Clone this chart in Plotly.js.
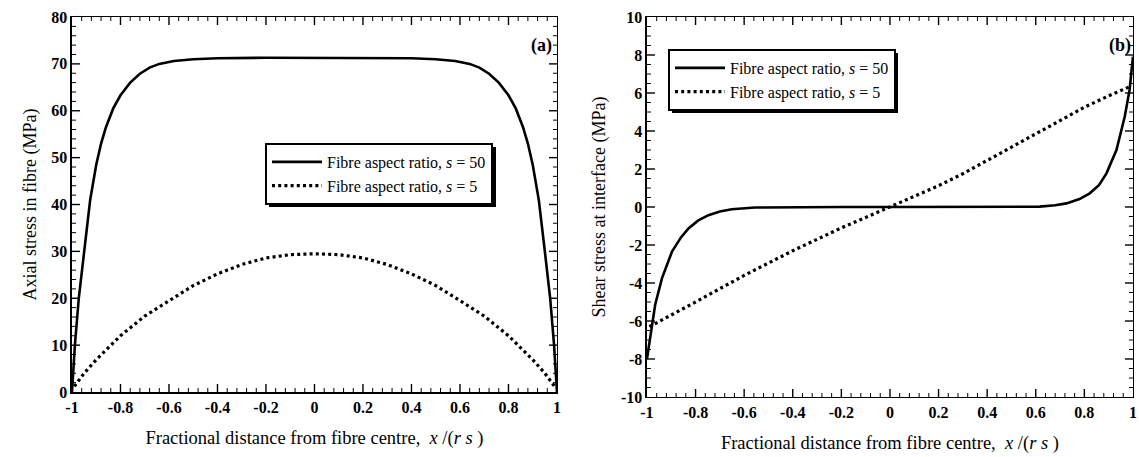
<!DOCTYPE html>
<html>
<head>
<meta charset="utf-8">
<script src="https://cdn.plot.ly/plotly-3.0.1.min.js"></script>
<style>html,body{margin:0;padding:0;background:#fff;}#chart{width:1139px;height:457px;}</style>
</head>
<body>
<div id="chart"></div>
<script>
// ---- Data ----
const xTickVals = [-1, -0.8, -0.6, -0.4, -0.2, 0, 0.2, 0.4, 0.6, 0.8, 1];
const xTickText = ['-1', '-0.8', '-0.6', '-0.4', '-0.2', '0', '0.2', '0.4', '0.6', '0.8', '1'];
const yTickValsA = [0, 10, 20, 30, 40, 50, 60, 70, 80];
const yTickTextA = ['0', '10', '20', '30', '40', '50', '60', '70', '80'];
const yTickValsB = [-10, -8, -6, -4, -2, 0, 2, 4, 6, 8, 10];
const yTickTextB = ['-10', '-8', '-6', '-4', '-2', '0', '2', '4', '6', '8', '10'];

const seriesNames = ['Fibre aspect ratio, <i>s</i> = 50', 'Fibre aspect ratio, <i>s</i> = 5'];

// (a) axial stress in fibre, s = 50
const xA50 = [-1, -0.988, -0.972, -0.95, -0.925, -0.9, -0.88, -0.86, -0.83, -0.8, -0.76, -0.72, -0.68, -0.64, -0.58, -0.5, -0.4, -0.2, 0, 0.2, 0.4, 0.5, 0.58, 0.64, 0.68, 0.72, 0.76, 0.8, 0.83, 0.86, 0.88, 0.9, 0.925, 0.95, 0.972, 0.988, 1];
const yA50 = [0, 10, 20, 30, 41, 48.5, 53, 56.5, 60.5, 63.3, 66.0, 67.9, 69.2, 70.0, 70.6, 71.0, 71.2, 71.3, 71.3, 71.3, 71.2, 71.0, 70.6, 70.0, 69.2, 67.9, 66.0, 63.3, 60.5, 56.5, 53, 48.5, 41, 30, 20, 10, 0];
// (a) axial stress in fibre, s = 5
const xA5 = [-0.99, -0.95, -0.9, -0.8, -0.7, -0.6, -0.5, -0.4, -0.3, -0.2, -0.1, 0, 0.1, 0.2, 0.3, 0.4, 0.5, 0.6, 0.7, 0.8, 0.9, 0.95, 0.99];
const yA5 = [1.2, 4.0, 6.9, 12.0, 16.2, 19.5, 22.7, 25.2, 27.2, 28.6, 29.3, 29.5, 29.3, 28.6, 27.2, 25.2, 22.7, 19.5, 16.2, 12.0, 6.9, 4.0, 1.2];

// (b) shear stress at interface, s = 50
const xB50 = [-1, -0.986, -0.966, -0.938, -0.897, -0.86, -0.829, -0.79, -0.747, -0.7, -0.651, -0.555, -0.4, -0.2, 0, 0.2, 0.4, 0.55, 0.616, 0.68, 0.726, 0.78, 0.822, 0.86, 0.891, 0.932, 0.966, 0.986, 1];
const yB50 = [-8.0, -6.87, -5.13, -3.74, -2.35, -1.6, -1.13, -0.72, -0.43, -0.24, -0.12, -0.03, 0, 0, 0, 0, 0, 0.01, 0.02, 0.09, 0.19, 0.42, 0.72, 1.15, 1.77, 3.0, 4.75, 6.16, 7.91];
// (b) shear stress at interface, s = 5
const xB5 = [-0.99, -0.9, -0.8, -0.7, -0.6, -0.5, -0.4, -0.3, -0.2, -0.1, 0, 0.1, 0.2, 0.3, 0.4, 0.5, 0.6, 0.7, 0.8, 0.9, 0.99];
const yB5 = [-6.3, -5.7, -5.0, -4.3, -3.6, -2.95, -2.3, -1.7, -1.1, -0.55, 0, 0.55, 1.12, 1.75, 2.45, 3.15, 3.85, 4.55, 5.25, 5.85, 6.35];

// ---- Styling ----
const FONT = 'Liberation Serif, Times New Roman, serif';
const solidLine = {color: '#000', width: 2.6};
const dotLine = {color: '#000', width: 3.2, dash: '3px,3.2px'};

// Inside tick marks on all four sides of a panel, built as line segments in data units
function tickTraces(xa, ya, xr, yr, xStep, xPerMajor, yStep, yPerMajor, wPx, hPx) {
  const mk = () => ({x: [], y: []});
  const major = mk(), minor = mk();
  const xCount = Math.round((xr[1] - xr[0]) / xStep);
  const yCount = Math.round((yr[1] - yr[0]) / yStep);
  const yPerPx = (yr[1] - yr[0]) / hPx, xPerPx = (xr[1] - xr[0]) / wPx;
  for (let i = 1; i < xCount; i++) {
    const v = xr[0] + i * xStep;
    const isMaj = i % xPerMajor === 0;
    const t = isMaj ? major : minor;
    const len = (isMaj ? 8 : 4) * yPerPx;
    t.x.push(v, v, null, v, v, null);
    t.y.push(yr[0], yr[0] + len, null, yr[1], yr[1] - len, null);
  }
  for (let i = 1; i < yCount; i++) {
    const v = yr[0] + i * yStep;
    const isMaj = i % yPerMajor === 0;
    const t = isMaj ? major : minor;
    const len = (isMaj ? 8 : 4) * xPerPx;
    t.x.push(xr[0], xr[0] + len, null, xr[1], xr[1] - len, null);
    t.y.push(v, v, null, v, v, null);
  }
  return [
    {x: major.x, y: major.y, xaxis: xa, yaxis: ya, mode: 'lines', line: {color: '#000', width: 1.4}, showlegend: false, hoverinfo: 'skip', connectgaps: false, cliponaxis: false},
    {x: minor.x, y: minor.y, xaxis: xa, yaxis: ya, mode: 'lines', line: {color: '#000', width: 1}, showlegend: false, hoverinfo: 'skip', connectgaps: false, cliponaxis: false}
  ];
}

const traces = [
  {x: xA50, y: yA50, xaxis: 'x', yaxis: 'y', mode: 'lines', line: solidLine, name: seriesNames[0], legend: 'legend'},
  {x: xA5, y: yA5, xaxis: 'x', yaxis: 'y', mode: 'lines', line: dotLine, name: seriesNames[1], legend: 'legend'},
  {x: xB50, y: yB50, xaxis: 'x2', yaxis: 'y2', mode: 'lines', line: solidLine, name: seriesNames[0], legend: 'legend2'},
  {x: xB5, y: yB5, xaxis: 'x2', yaxis: 'y2', mode: 'lines', line: dotLine, name: seriesNames[1], legend: 'legend2'}
].concat(
  tickTraces('x', 'y', [-1, 1], [0, 80], 0.04, 5, 2, 5, 485, 375),
  tickTraces('x2', 'y2', [-1, 1], [-10, 10], 0.04, 5, 0.5, 4, 486, 380)
);

function xAxis(domain, anchor) {
  return {
    domain: domain, anchor: anchor, range: [-1, 1],
    tickvals: xTickVals, ticktext: xTickText, ticks: '',
    showline: true, linecolor: '#000', linewidth: 1.5, mirror: true,
    showgrid: false, zeroline: false,
    tickfont: {family: FONT, size: 16, color: '#000', weight: 'bold'},
    title: {text: 'Fractional distance from fibre centre,  <i>x</i> /(<i>r s</i> )', font: {family: FONT, size: 18.5, color: '#000'}, standoff: 16}
  };
}
function yAxis(domain, anchor, range, vals, text, title) {
  return {
    domain: domain, anchor: anchor, range: range,
    tickvals: vals, ticktext: text, ticks: '',
    showline: true, linecolor: '#000', linewidth: 1.5, mirror: true,
    showgrid: false, zeroline: false,
    tickfont: {family: FONT, size: 16, color: '#000', weight: 'bold'},
    title: {text: title, font: {family: FONT, size: 18, color: '#000'}, standoff: 10}
  };
}

const legendStyle = {
  bgcolor: '#fff', bordercolor: '#000', borderwidth: 2,
  font: {family: FONT, size: 16, color: '#000'},
  xanchor: 'left', yanchor: 'top', tracegroupgap: 0, itemwidth: 50
};

function px(x) { return x / 1139; }
function py(y) { return 1 - y / 457; }

const layout = {
  width: 1139, height: 457,
  margin: {l: 0, r: 0, t: 0, b: 0},
  showlegend: true,
  xaxis: xAxis([0.0632, 0.489], 'y'),
  yaxis: yAxis([0.1422, 0.9628], 'x', [0, 80], yTickValsA, yTickTextA, 'Axial stress in fibre (MPa)'),
  xaxis2: xAxis([0.568, 0.9947], 'y2'),
  yaxis2: yAxis([0.1313, 0.9628], 'x2', [-10, 10], yTickValsB, yTickTextB, 'Shear stress at interface (MPa)'),
  legend: Object.assign({x: px(265), y: py(143)}, legendStyle),
  legend2: Object.assign({x: px(668), y: py(49)}, legendStyle),
  annotations: [
    {text: '<b>(a)</b>', xref: 'paper', yref: 'paper', x: 0.475, y: 0.9, xanchor: 'center', yanchor: 'middle', showarrow: false, font: {family: FONT, size: 18, color: '#000'}},
    {text: '<b>(b)</b>', xref: 'paper', yref: 'paper', x: 0.983, y: 0.9, xanchor: 'center', yanchor: 'middle', showarrow: false, font: {family: FONT, size: 18, color: '#000'}}
  ],
  shapes: [
    // drop shadows behind the two legend boxes
    {type: 'rect', xref: 'paper', yref: 'paper', x0: px(269), x1: px(496), y0: py(147), y1: py(207), fillcolor: '#000', line: {width: 0}, layer: 'above'},
    {type: 'rect', xref: 'paper', yref: 'paper', x0: px(672), x1: px(898), y0: py(53), y1: py(113), fillcolor: '#000', line: {width: 0}, layer: 'above'}
  ]
};

Plotly.newPlot('chart', traces, layout, {displayModeBar: false, staticPlot: true});
</script>
</body>
</html>
